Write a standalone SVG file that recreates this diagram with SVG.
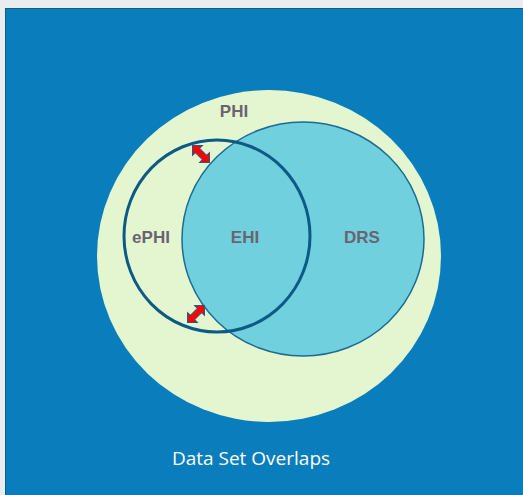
<svg xmlns="http://www.w3.org/2000/svg" width="523" height="495" viewBox="0 0 523 495">
  <defs>
    <style>
      .lbl { font-family: "Liberation Sans", Arial, sans-serif; font-size: 17px; font-weight: bold; fill: #6a6472; text-anchor: middle; }
      .cap { font-family: "Open Sans", "Liberation Sans", sans-serif; font-size: 19px; fill: #ffffff; text-anchor: middle; }
      .arrow { fill: #ff0000; stroke: #2a5a80; stroke-width: 1; stroke-linejoin: miter; }
    </style>
    <path id="dblarrow" d="M-12,0 L-5,-7 L-5,-3 L5,-3 L5,-7 L12,0 L5,7 L5,3 L-5,3 L-5,7 Z"/>
  </defs>
  <rect x="0" y="0" width="523" height="495" fill="#e9edf0"/>
  <rect x="5" y="8" width="518" height="487" fill="#0a7dbc"/>
  <line x1="5" y1="8.5" x2="523" y2="8.5" stroke="#0b5f8e" stroke-width="1"/>
  <line x1="5.5" y1="8" x2="5.5" y2="495" stroke="#0b5f8e" stroke-width="1"/>

  <g id="phi">
    <ellipse cx="269" cy="256" rx="172" ry="166" fill="#e4f6cf"/>
    <text class="lbl" x="234" y="117">PHI</text>
  </g>
  <g id="drs">
    <ellipse cx="303" cy="239" rx="121" ry="117" fill="#70d0dd" stroke="#1d6a93" stroke-width="1.5"/>
    <text class="lbl" x="362" y="243">DRS</text>
  </g>
  <g id="ephi">
    <ellipse cx="217" cy="236" rx="93" ry="96" fill="none" stroke="#0c5a86" stroke-width="3"/>
    <text class="lbl" x="151" y="243">ePHI</text>
  </g>
  <g id="ehi">
    <text class="lbl" x="245" y="243">EHI</text>
  </g>
  <g id="connectors">
    <use href="#dblarrow" class="arrow" transform="translate(201,154) rotate(45)"/>
    <use href="#dblarrow" class="arrow" transform="translate(196,314) rotate(-45)"/>
  </g>
  <g id="caption">
    <text class="cap" x="251" y="465">Data Set Overlaps</text>
  </g>
</svg>
